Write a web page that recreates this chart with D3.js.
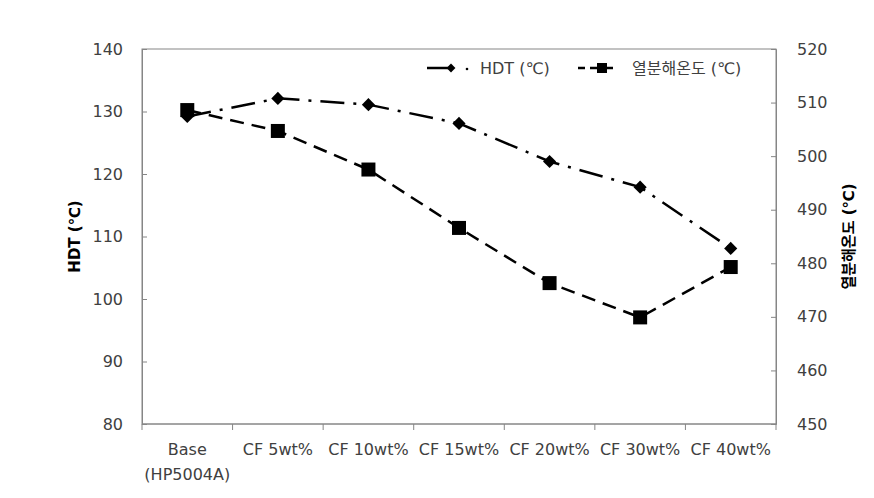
<!DOCTYPE html>
<html><head><meta charset="utf-8">
<script src="https://cdn.jsdelivr.net/npm/d3@7"></script>
<style>
body{margin:0;background:#fff;}
text{font-family:"DejaVu Sans","Noto Sans CJK KR",sans-serif;}
</style></head>
<body><svg id="c" width="874" height="498"></svg>
<script>
const categories = ["Base|(HP5004A)","CF 5wt%","CF 10wt%","CF 15wt%","CF 20wt%","CF 30wt%","CF 40wt%"];
const hdt = [129.2, 132.1, 131.1, 128.1, 122.0, 117.9, 108.1];
const decomp = [508.6, 504.7, 497.5, 486.6, 476.3, 469.9, 479.3];
const leftTicks = [80,90,100,110,120,130,140];
const rightTicks = [450,460,470,480,490,500,510,520];
const seriesNames = ["HDT (℃)", "열분해온도 (℃)"];
const axisTitles = ["HDT (℃)", "열분해온도 (℃)"];

const svg = d3.select("#c");
const L=142, R=776, T=49, B=424;
const x = d3.scaleBand().domain(categories).range([L,R]);
const yL = d3.scaleLinear().domain([80,140]).range([B,T]);
const yR = d3.scaleLinear().domain([450,520]).range([B,T]);
const grey="#868686", txt="#404040";

svg.append("rect").attr("x",L).attr("y",T).attr("width",R-L).attr("height",B-T)
  .attr("fill","none").attr("stroke",grey).attr("stroke-width",1);

const gl = svg.append("g").attr("transform",`translate(${L},0)`)
  .call(d3.axisLeft(yL).tickValues(leftTicks).tickSize(-5));
const gr = svg.append("g").attr("transform",`translate(${R},0)`)
  .call(d3.axisRight(yR).tickValues(rightTicks).tickSize(-5));
[gl,gr].forEach(g=>{
  g.select(".domain").attr("stroke",grey);
  g.selectAll(".tick line").attr("stroke",grey);
  g.selectAll(".tick text").attr("fill",txt).attr("font-size",16);
});
gl.selectAll(".tick text").attr("x",-19);
gr.selectAll(".tick text").attr("x",21);

const gx = svg.append("g").attr("transform",`translate(0,${B})`);
gx.append("line").attr("x1",L).attr("x2",R).attr("stroke",grey);
const bounds = categories.map(c=>x(c)).concat([R]);
gx.selectAll("line.tk").data(bounds).join("line").attr("class","tk")
  .attr("x1",d=>d).attr("x2",d=>d).attr("y1",0).attr("y2",6).attr("stroke",grey);
gx.selectAll("text.lab").data(categories).join("text").attr("class","lab")
  .attr("text-anchor","middle").attr("fill",txt).attr("font-size",16)
  .each(function(d){
    const parts=d.split("|");
    const t=d3.select(this);
    parts.forEach((p,i)=>t.append("tspan").attr("x",x(d)+x.bandwidth()/2).attr("y",31+i*25).text(p));
  });

const cx = d=>x(d)+x.bandwidth()/2;
svg.append("path").datum(hdt)
  .attr("d",d3.line().x((d,i)=>cx(categories[i])).y(d=>yL(d)))
  .attr("fill","none").attr("stroke","#000").attr("stroke-width",2.5)
  .attr("stroke-dasharray","24,9,3,9");
svg.append("path").datum(decomp)
  .attr("d",d3.line().x((d,i)=>cx(categories[i])).y(d=>yR(d)))
  .attr("fill","none").attr("stroke","#000").attr("stroke-width",2.5)
  .attr("stroke-dasharray","14,8");

const diamond = d3.symbol().type(d3.symbolDiamond2).size(110);
svg.selectAll("path.dia").data(hdt).join("path").attr("class","dia")
  .attr("d",diamond).attr("fill","#000")
  .attr("transform",(d,i)=>`translate(${cx(categories[i])},${yL(d)})`);
const sq = 14;
svg.selectAll("rect.sq").data(decomp).join("rect").attr("class","sq")
  .attr("x",(d,i)=>cx(categories[i])-sq/2).attr("y",d=>yR(d)-sq/2)
  .attr("width",sq).attr("height",sq).attr("fill","#000");

const ly=68;
const lg = svg.append("g");
lg.append("line").attr("x1",427).attr("x2",452).attr("y1",ly).attr("y2",ly).attr("stroke","#000").attr("stroke-width",2.5);
lg.append("path").attr("d",d3.symbol().type(d3.symbolDiamond2).size(50)).attr("transform",`translate(451,${ly})`);
lg.append("circle").attr("cx",467).attr("cy",ly+1).attr("r",1.3).attr("fill","#000");
lg.append("text").attr("x",480).attr("y",ly+6).attr("font-size",16).attr("fill",txt).text(seriesNames[0]);
lg.append("line").attr("x1",578).attr("x2",613).attr("y1",ly).attr("y2",ly).attr("stroke","#000").attr("stroke-width",2.5).attr("stroke-dasharray","7,5,30");
lg.append("rect").attr("x",597).attr("y",ly-5).attr("width",10).attr("height",10).attr("fill","#000");
lg.append("text").attr("x",632).attr("y",ly+6).attr("font-size",16).attr("fill",txt).text(seriesNames[1]);

svg.append("text").attr("transform",`translate(80,${(T+B)/2}) rotate(-90)`)
  .attr("text-anchor","middle").attr("font-size",15).attr("font-weight","bold").attr("fill","#000").text(axisTitles[0]);
svg.append("text").attr("transform",`translate(854,${(T+B)/2}) rotate(-90)`)
  .attr("text-anchor","middle").attr("font-size",15).attr("font-weight","bold").attr("fill","#000").text(axisTitles[1]);
</script></body></html>
